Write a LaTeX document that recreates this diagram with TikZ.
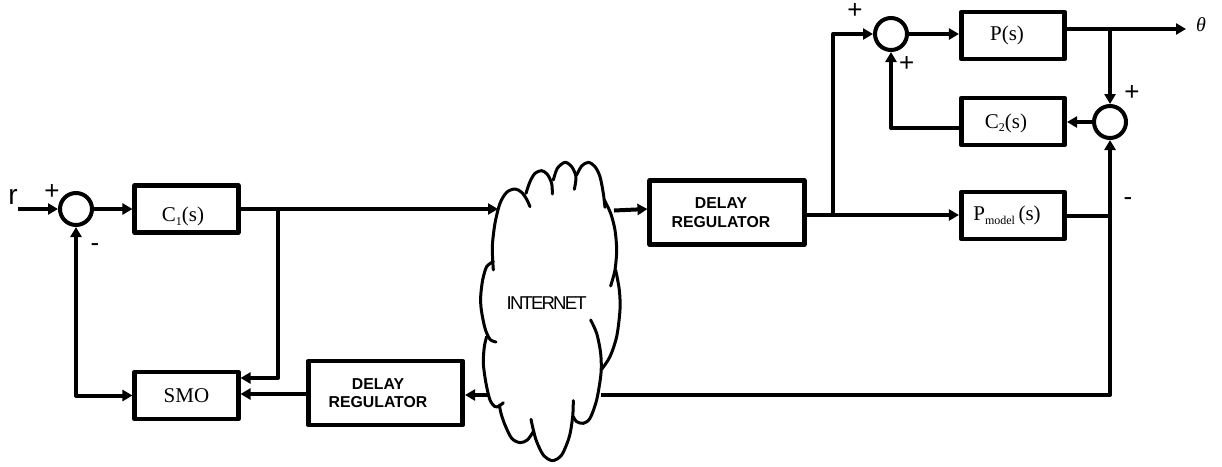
\documentclass[tikz,border=0pt]{standalone}
\usepackage{fontspec}
\setmainfont{Liberation Serif}
\newfontfamily\arialfont{Liberation Sans}
\newfontfamily\tightfont[LetterSpace=-10]{Liberation Sans}
\usetikzlibrary{arrows.meta, calc, positioning}
\newcommand{\subtext}[1]{\raisebox{-3.5pt}{\fontsize{12}{12}\selectfont #1}}
\begin{document}
\begin{tikzpicture}[x=1pt, y=-1pt, >={Triangle[length=10pt,width=11pt]}, line join=round,
    wire/.style={line width=4pt},
    blockbox/.style={draw, line width=4.6pt, inner sep=0pt, minimum width=103.5pt, minimum height=47pt, font=\fontsize{21}{25}\selectfont},
    delaybox/.style={draw, line width=4.6pt, inner sep=0pt, minimum width=154.5pt, minimum height=64pt, align=center, font=\arialfont\bfseries\fontsize{15.8}{18.5}\selectfont},
    sumcirc/.style={draw, circle, line width=4pt, inner sep=0pt, minimum size=32pt},
    signtext/.style={inner sep=0pt, font=\arialfont\fontsize{26}{26}\selectfont},
    cloudline/.style={line width=3pt, line cap=round}]
    \useasboundingbox (0,0) rectangle (1222,466);

    % 方框
    \node[blockbox, text height=25pt, text depth=0pt] (c1) at (186.5,209) {C\subtext{1}(s)\hspace*{7pt}};
    \node[blockbox] (smo) at (186.5,395.5) {SMO};
    \node[blockbox] (plant) at (1013,35.5) {P(s)\hspace*{12pt}};
    \node[blockbox, text height=16pt, text depth=3pt] (c2) at (1013,121.5) {C\subtext{2}(s)\hspace*{14pt}};
    \node[blockbox, text height=15pt, text depth=5pt] (pmodel) at (1013,215.5) {P\subtext{model}\,(s)\hspace*{12pt}};
    \node[delaybox] (delayb) at (385.5,393) {DELAY\hspace*{15pt}\\REGULATOR\hspace*{15pt}};
    \node[delaybox] (delayf) at (727,212.5) {DELAY\hspace*{12pt}\\REGULATOR\hspace*{12pt}};

    % 求和点
    \node[sumcirc] (suma) at (76,209) {};
    \node[sumcirc] (sumb) at (891,34) {};
    \node[sumcirc] (sumc) at (1110,122) {};

    % 云
    \node[inner sep=0pt, font=\tightfont\fontsize{18.6}{20}\selectfont] (internet) at (546.7,303.3) {INTERNET};
    \begin{scope}[shift={(440,130)}, x=0.3333pt, y=-0.3333pt]
        \draw[cloudline] plot[smooth] coordinates {(160,420) (157,350) (165,280) (180,220) (200,187) (225,177) (245,187) (260,208) (270,230)};
        \draw[cloudline] plot[smooth] coordinates {(258,190) (270,155) (285,130) (305,122) (322,133) (335,160) (337,192)};
        \draw[cloudline] plot[smooth] coordinates {(340,150) (352,115) (375,97) (395,110) (408,140) (403,178)};
        \draw[cloudline] plot[smooth] coordinates {(410,135) (425,108) (445,97) (465,110) (480,140) (490,190) (495,232)};
        \draw[cloudline] plot[smooth] coordinates {(493,210) (512,250) (525,300) (530,360) (525,420) (512,468)};
        \draw[cloudline] plot[smooth] coordinates {(527,420) (538,480) (540,540) (530,620) (510,680) (485,718)};
        \draw[cloudline] plot[smooth] coordinates {(452,570) (470,610) (482,670) (483,730) (470,810) (450,865) (430,880) (410,875) (400,860)};
        \draw[cloudline] plot[smooth] coordinates {(400,812) (398,860) (388,920) (365,975) (337,992) (310,975) (290,935) (280,900) (273,868)};
        \draw[cloudline] plot[smooth] coordinates {(280,905) (262,930) (240,938) (215,925) (195,885) (183,850) (178,825)};
        \draw[cloudline] plot[smooth] coordinates {(190,818) (178,828) (165,830) (150,810) (138,760) (130,700) (133,650) (140,620)};
        \draw[cloudline] plot[smooth] coordinates {(168,636) (150,628) (135,595) (124,540) (122,500) (128,450) (140,410) (160,395)};
    \end{scope}

    % 端点
    \coordinate (input) at (18,209);
    \coordinate (cloudin) at (498,209);
    \coordinate (cloudout) at (614,210.5);
    \coordinate (cloudright) at (601,395);
    \coordinate (cloudleft) at (488,395);
    \coordinate (delayfin) at (delayf.west |- 0,209);
    \coordinate (delayfout) at (delayf.east |- 0,215);
    \coordinate (smotop) at (smo.east |- 0,378);
    \coordinate (smomid) at (smo.east |- 0,394);
    \coordinate (plantout) at (plant.east |- 0,29);
    \coordinate (output) at (1186,29);
    \coordinate (c2in) at (c2.east |- sumc.west);
    \coordinate (c2out) at (c2.west |- 0,128);
    \coordinate (delaybout) at (delayb.west |- 0,394);

    % 前向通路
    \draw[wire, ->] (input) -- (suma);
    \draw[wire, ->] (suma) -- (c1);
    \draw[wire, ->] (c1) -- (cloudin);
    \draw[wire, ->] (cloudout) -- (delayfin);
    \draw[wire, ->] (delayfout) -- (pmodel.west |- delayfout);
    \draw[wire, ->] (833,215) |- (sumb.west);
    \draw[wire, ->] (sumb) -- (plant.west |- sumb);
    \draw[wire, ->] (plantout) -- (output);

    % 反馈通路
    \draw[wire, ->] (1110,29) -- (sumc);
    \draw[wire, ->] (sumc) -- (c2in);
    \draw[wire, ->] (c2out) -| (sumb);
    \draw[wire] (pmodel) -- (1110,215.5);
    \draw[wire, ->] (cloudright) -| (sumc);
    \draw[wire, ->] (cloudleft) -- (delayb.east |- cloudleft);
    \draw[wire, ->] (delaybout) -- (smomid);
    \draw[wire, ->] (278,209) |- (smotop);
    \draw[wire, <->] (smo.west) -| (suma);

    % 文字
    \node[signtext, font=\arialfont\fontsize{28}{28}\selectfont] (rlabel) at (13,197) {r};
    \node[signtext] (plusa) at (52,192) {+};
    \node[signtext] (minusa) at (95,248) {-};
    \node[signtext] (plusb) at (855,11) {+};
    \node[signtext] (plusc) at (906.7,64) {+};
    \node[signtext] (plusd) at (1132,93) {+};
    \node[signtext] (minusb) at (1128,202) {-};
    \node[inner sep=0pt, font=\fontsize{20}{20}\selectfont\itshape] (thetalabel) at (1201,25) {θ};
\end{tikzpicture}
\end{document}
